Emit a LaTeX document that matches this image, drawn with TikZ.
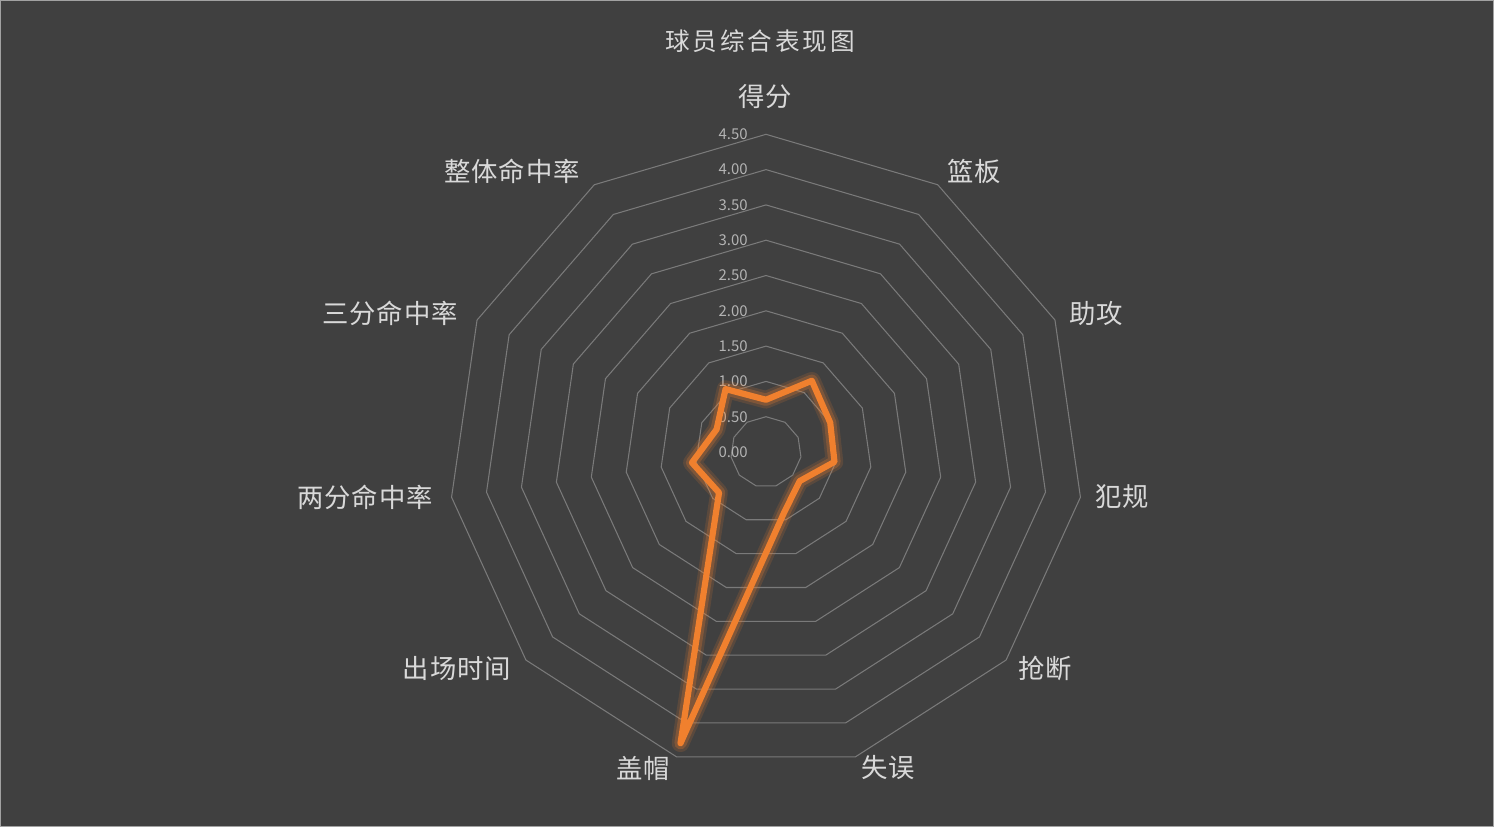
\documentclass[tikz,border=0pt]{standalone}
\usepackage{fontspec}
\newfontfamily\cjk{Noto Sans CJK SC}
\newfontfamily\cjkw[LetterSpace=4]{Noto Sans CJK SC}
\newfontfamily\cjkt[LetterSpace=12]{Noto Sans CJK SC}
\definecolor{bg}{HTML}{404040}
\definecolor{ring}{HTML}{7A7A7A}
\definecolor{txt}{HTML}{D9D9D9}
\definecolor{org}{HTML}{F0802E}
\tikzset{cat/.style={text=txt,font=\cjkw\fontsize{15}{17}\selectfont},
tick/.style={text=ring!40!txt,font=\cjk\fontsize{8.5}{10}\selectfont,anchor=east,inner sep=0pt}}
\begin{document}
\begin{tikzpicture}
\fill[bg] (0,0) rectangle (29.88,16.54);
\draw[ring!70!white,line width=0.6pt] (0.01,0.01) rectangle (29.87,16.53);
\node[text=txt,font=\cjkt\fontsize{14}{16}\selectfont] (title) at (15.2,15.72) {球员综合表现图};
\begin{scope}[shift={(15.32,7.5)}]
\coordinate (c) at (0,0);
\foreach \k in {1,...,9}{
 \draw[ring,line width=0.6pt] (90:\k*0.706) \foreach \i in {1,...,10}{-- ({90-\i*360/11}:\k*0.706)} -- cycle;
}
\foreach \k/\t in {0/0.00,1/0.50,2/1.00,3/1.50,4/2.00,5/2.50,6/3.00,7/3.50,8/4.00,9/4.50}
 \node[tick] (t\k) at (-0.36,\k*0.706) {\t};
\def\pts{(90:0.74*1.412) -- ({90-1*360/11}:1.2*1.412) -- ({90-2*360/11}:1.0*1.412) -- ({90-3*360/11}:0.98*1.412) -- ({90-4*360/11}:0.63*1.412) -- ({90-5*360/11}:0.9*1.412) -- ({90-6*360/11}:4.3*1.412) -- ({90-7*360/11}:0.88*1.412) -- ({90-8*360/11}:1.06*1.412) -- ({90-9*360/11}:0.77*1.412) -- ({90-10*360/11}:1.06*1.412) -- cycle}
\draw[org,opacity=0.15,line width=10pt,line join=round] \pts;
\draw[org,opacity=0.25,line width=7pt,line join=round] \pts;
\draw[org,line width=3.5pt,line join=round] \pts;
\end{scope}
\node[cat] (a1) at (15.30,14.6) {得分};
\node[cat] (a2) at (19.48,13.12) {篮板};
\node[cat] (a3) at (21.92,10.28) {助攻};
\node[cat] (a4) at (22.44,6.6) {犯规};
\node[cat] (a5) at (20.9,3.18) {抢断};
\node[cat] (a6) at (17.76,1.18) {失误};
\node[cat] (a7) at (12.86,1.18) {盖帽};
\node[cat] (a8) at (9.14,3.18) {出场时间};
\node[cat] (a9) at (7.3,6.6) {两分命中率};
\node[cat] (a10) at (7.8,10.28) {三分命中率};
\node[cat] (a11) at (10.24,13.12) {整体命中率};
\end{tikzpicture}
\end{document}
